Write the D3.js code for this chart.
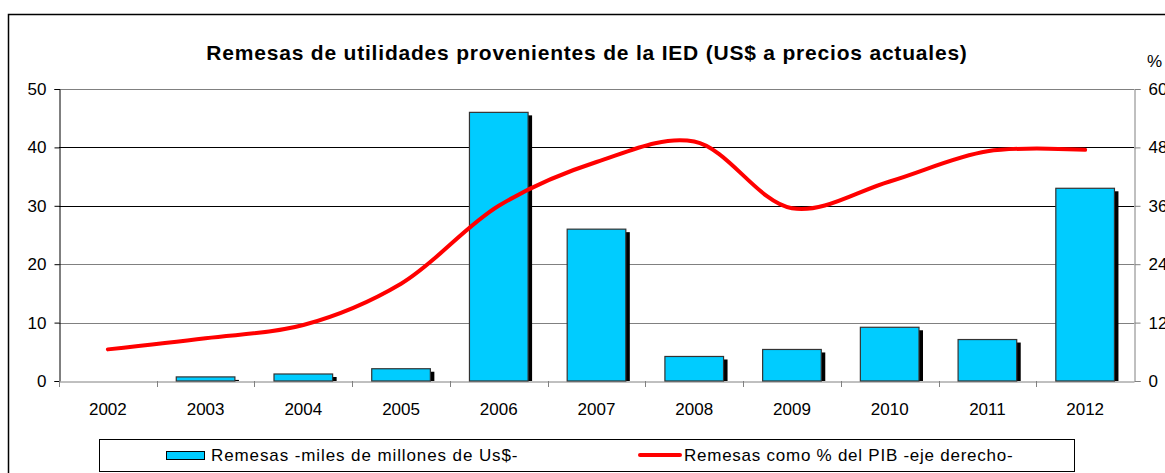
<!DOCTYPE html>
<meta charset="utf-8">
<script src="https://d3js.org/d3.v7.min.js"></script>
<style>
  body { margin: 0; background: #fff; }
  text { font-family: "Liberation Sans", Arial, sans-serif; fill: #000; }
</style>
<div id="chart"></div>
<script>
// data
var years = ["2002", "2003", "2004", "2005", "2006", "2007", "2008", "2009", "2010", "2011", "2012"];
var remesas = [0, 0.7, 1.2, 2.1, 46, 26, 4.2, 5.4, 9.2, 7.1, 33];       // miles de millones US$
var pctPib = [6.5, 8.8, 11.5, 20, 36, 45, 49.2, 35.5, 41, 47.2, 47.5];   // % del PIB (right axis)
var leftTicks = [0, 10, 20, 30, 40, 50];
var rightTicks = [0, 12, 24, 36, 48, 60];

var W = 1165, H = 473;
var plot = {left: 59, right: 1134, top: 89, bottom: 381};

var svg = d3.select("#chart").append("svg")
  .attr("width", W).attr("height", H);

// outer frame (runs off the right / bottom edge like the source)
svg.append("rect")
  .attr("x", 8.5).attr("y", 14.5)
  .attr("width", W + 10).attr("height", H + 10)
  .attr("fill", "none").attr("stroke", "#000").attr("stroke-width", 1.5);

// title
svg.append("text")
  .attr("x", 587).attr("y", 60)
  .attr("text-anchor", "middle")
  .style("font-weight", "bold").style("font-size", "21px")
  .style("letter-spacing", "0.8px")
  .text("Remesas de utilidades provenientes de la IED (US$ a precios actuales)");

var x = d3.scaleBand().domain(years).range([plot.left, plot.right]).padding(0);
var y = d3.scaleLinear().domain([0, 50]).range([plot.bottom, plot.top]);
var y2 = d3.scaleLinear().domain([0, 60]).range([plot.bottom, plot.top]);

// gridlines
svg.append("g").selectAll("line")
  .data(leftTicks.filter(function(d) { return d > 0; }))
  .enter().append("line")
    .attr("x1", plot.left).attr("x2", plot.right)
    .attr("y1", function(d) { return Math.round(y(d)) + 0.5; })
    .attr("y2", function(d) { return Math.round(y(d)) + 0.5; })
    .attr("stroke", function(d) { return (d == 30 || d == 40) ? "#000" : "#808080"; })
    .attr("stroke-width", 1);

// left axis
var yAxis = svg.append("g")
  .attr("transform", "translate(" + (plot.left + 0.5) + ",0)")
  .call(d3.axisLeft(y).tickValues(leftTicks).tickSize(5).tickPadding(8));
yAxis.select(".domain").attr("stroke", "#000");
yAxis.selectAll(".tick line").attr("stroke", "#000");
yAxis.selectAll("text").style("font-size", "17px").attr("font-family", null);

// right axis
var y2Axis = svg.append("g")
  .attr("transform", "translate(" + (plot.right + 0.5) + ",0)")
  .call(d3.axisRight(y2).tickValues(rightTicks).tickSize(6).tickPadding(8));
y2Axis.select(".domain").attr("stroke", "#808080");
y2Axis.selectAll(".tick line").attr("stroke", "#808080");
y2Axis.selectAll("text").style("font-size", "17px").attr("font-family", null);

svg.append("text")
  .attr("x", 1147).attr("y", 67)
  .style("font-size", "17px")
  .text("%");

// bottom axis with ticks between categories
var xAxis = svg.append("g")
  .attr("transform", "translate(0," + (plot.bottom + 0.5) + ")")
  .call(d3.axisBottom(x).tickSize(0).tickPadding(21));
xAxis.select(".domain").attr("stroke", "#808080");
xAxis.selectAll("text").style("font-size", "17px").attr("font-family", null);
svg.append("g").selectAll("line")
  .data(years)
  .enter().append("line")
    .attr("x1", function(d) { return Math.round(x(d)) + 0.5; })
    .attr("x2", function(d) { return Math.round(x(d)) + 0.5; })
    .attr("y1", plot.bottom).attr("y2", plot.bottom + 6)
    .attr("stroke", "#808080");

// bars with a black drop shadow
var bw = x.step() * 0.6;
var bars = svg.append("g");
bars.selectAll(".shadow")
  .data(remesas)
  .enter().append("rect")
    .attr("class", "shadow")
    .attr("x", function(d, i) { return x(years[i]) + x.step() * 0.2 + 4; })
    .attr("y", function(d) { return Math.min(y(d) + 3, plot.bottom); })
    .attr("width", bw)
    .attr("height", function(d) { return Math.max(plot.bottom - y(d) - 3, 0); })
    .attr("fill", "#000")
    .attr("display", function(d) { return d > 0 ? null : "none"; });
bars.selectAll(".bar")
  .data(remesas)
  .enter().append("rect")
    .attr("class", "bar")
    .attr("x", function(d, i) { return x(years[i]) + x.step() * 0.2; })
    .attr("y", function(d) { return y(d); })
    .attr("width", bw)
    .attr("height", function(d) { return plot.bottom - y(d); })
    .attr("fill", "#00CCFF")
    .attr("stroke", "#333")
    .attr("stroke-width", 1.2)
    .attr("display", function(d) { return d > 0 ? null : "none"; });

// red smoothed line on the right axis
var line = d3.line()
  .x(function(d, i) { return x(years[i]) + x.bandwidth() / 2; })
  .y(function(d) { return y2(d); })
  .curve(d3.curveCatmullRom.alpha(0.5));
svg.append("path")
  .datum(pctPib)
  .attr("d", line)
  .attr("fill", "none")
  .attr("stroke", "#FF0000")
  .attr("stroke-width", 4)
  .attr("stroke-linecap", "round");

// legend
var lg = svg.append("g");
lg.append("rect")
  .attr("x", 99.5).attr("y", 439.5).attr("width", 975).attr("height", 32)
  .attr("fill", "#fff").attr("stroke", "#000").attr("stroke-width", 1);
lg.append("rect")
  .attr("x", 166.5).attr("y", 451.5).attr("width", 38).attr("height", 8)
  .attr("fill", "#00CCFF").attr("stroke", "#000");
lg.append("text")
  .attr("x", 211).attr("y", 461)
  .style("font-size", "17px").style("letter-spacing", "0.9px")
  .text("Remesas -miles de millones de Us$-");
lg.append("line")
  .attr("x1", 640).attr("x2", 680).attr("y1", 455).attr("y2", 455)
  .attr("stroke", "#FF0000").attr("stroke-width", 4).attr("stroke-linecap", "round");
lg.append("text")
  .attr("x", 684).attr("y", 461)
  .style("font-size", "17px").style("letter-spacing", "0.75px")
  .text("Remesas como % del PIB -eje derecho-");
</script>
